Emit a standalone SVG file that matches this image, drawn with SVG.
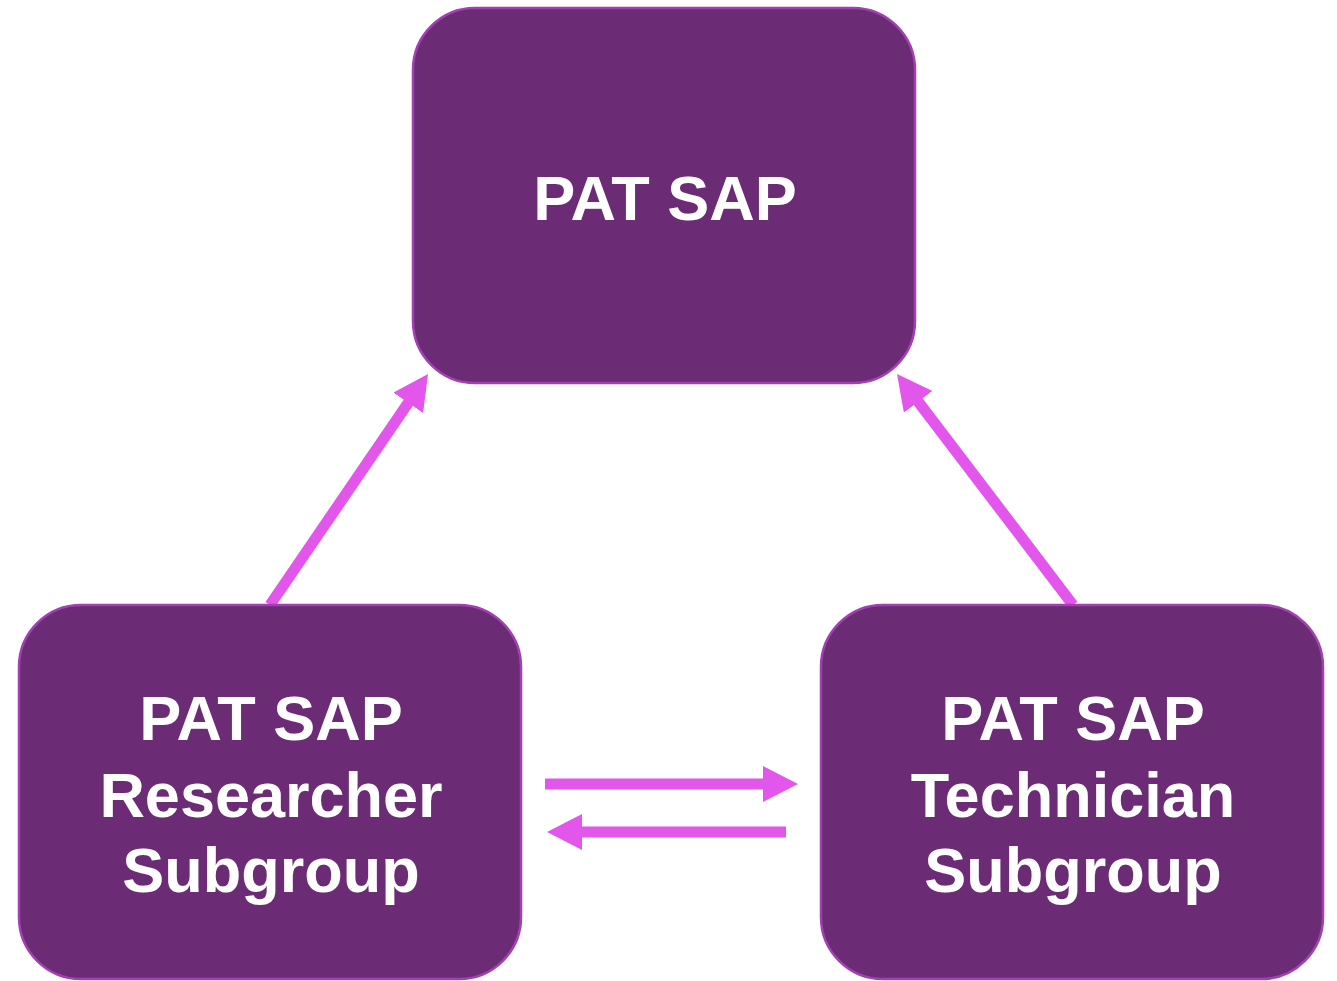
<svg xmlns="http://www.w3.org/2000/svg" width="1337" height="981" viewBox="0 0 1337 981">
<style>
.box{fill:#6C2C75;stroke:#A23FB3;stroke-width:2.5}
.lbl{font-family:"Liberation Sans",Arial,sans-serif;font-weight:bold;font-size:63px;fill:#FFFFFF;text-anchor:middle}
.conn{stroke:#E356EC;stroke-width:11;fill:none}
</style>
<defs>
<marker id="ah" markerUnits="userSpaceOnUse" markerWidth="36" markerHeight="36" refX="2" refY="18" orient="auto" viewBox="0 0 36 36">
<path d="M0,0 L35,18 L0,36 z" fill="#E356EC"/>
</marker>
</defs>
<rect width="1337" height="981" fill="#FFFFFF"/>
<g id="connectors">
<line class="conn" x1="270" y1="605" x2="409.4" y2="401.2" marker-end="url(#ah)"/>
<line class="conn" x1="1073" y1="605" x2="917" y2="400.2" marker-end="url(#ah)"/>
<line class="conn" x1="545" y1="784" x2="765" y2="784" marker-end="url(#ah)"/>
<line class="conn" x1="786" y1="832" x2="580" y2="832" marker-end="url(#ah)"/>
</g>
<g id="node-top">
<rect class="box" x="413" y="8" width="502" height="375" rx="62" ry="62"/>
<text class="lbl" x="665" y="220">PAT SAP</text>
</g>
<g id="node-researcher">
<rect class="box" x="19" y="605" width="502" height="374" rx="62" ry="62"/>
<text class="lbl" x="271" y="740">PAT SAP</text>
<text class="lbl" x="271" y="817">Researcher</text>
<text class="lbl" x="271" y="892">Subgroup</text>
</g>
<g id="node-technician">
<rect class="box" x="821" y="605" width="502" height="374" rx="62" ry="62"/>
<text class="lbl" x="1073" y="740">PAT SAP</text>
<text class="lbl" x="1073" y="817">Technician</text>
<text class="lbl" x="1073" y="892">Subgroup</text>
</g>
</svg>
